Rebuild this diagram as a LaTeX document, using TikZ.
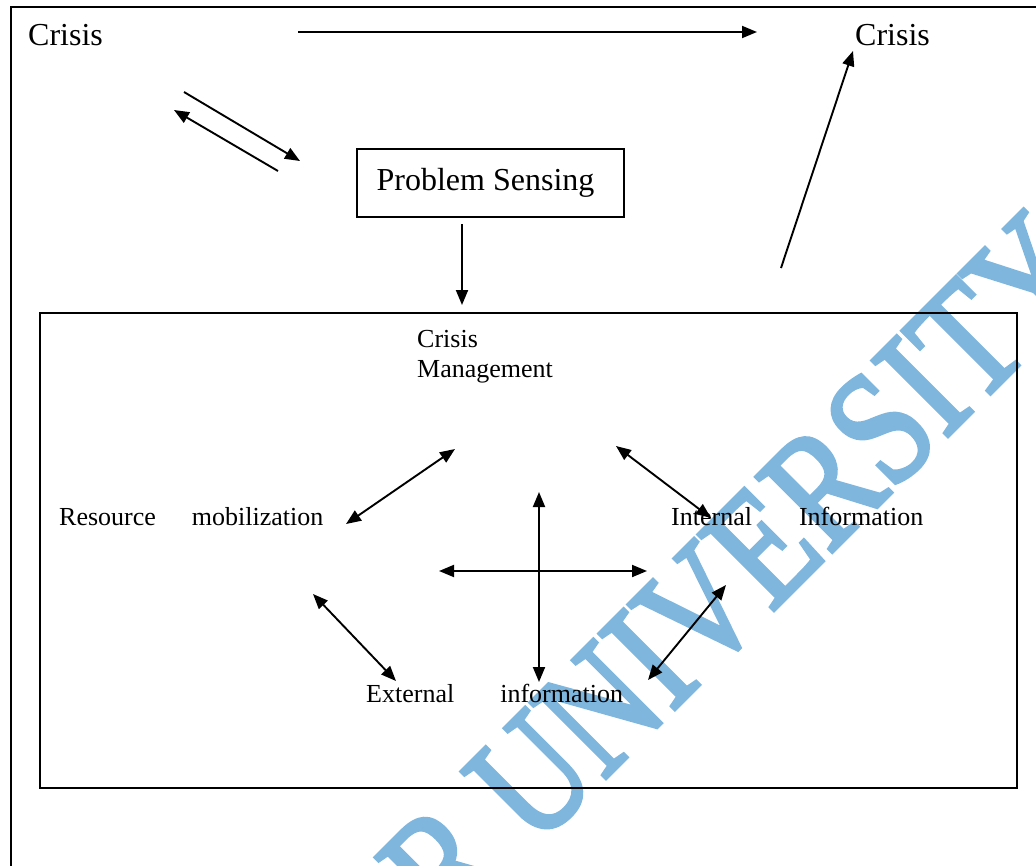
\documentclass[tikz,border=0pt]{standalone}
\usepackage{fontspec}
\setmainfont{Liberation Serif}
\newfontfamily\wmfont[FakeBold=2.5]{Liberation Serif}
\usetikzlibrary{arrows.meta}
\definecolor{wmblue}{RGB}{127,182,222}
\tikzset{
  lbl/.style={inner sep=0pt, anchor=base west, font=\fontsize{26}{29.5}\selectfont},
  bigl/.style={inner sep=0pt, anchor=base west, font=\fontsize{32}{36}\selectfont},
  arr/.style={-{Triangle[length=15pt,width=12pt]}, line width=1.9pt},
  darr/.style={{Triangle[length=15pt,width=12pt]}-{Triangle[length=15pt,width=12pt]}, line width=1.9pt}
}
\begin{document}
\begin{tikzpicture}[x=1pt,y=-1pt]
    \useasboundingbox (0,0) rectangle (1036,865);

    % watermark
    \begin{scope}
      \clip (0,0) rectangle (1036,865);
      \node[inner sep=0pt, anchor=base west, rotate=45, xscale=0.82, text=wmblue,
            font=\wmfont\fontsize{163}{163}\selectfont] (wm) at (448,936) {R UNIVERSITY};
    \end{scope}

    % frames
    \draw[line width=1.8pt] (11,870) -- (11,7) -- (1040,7);
    \node[draw, line width=1.8pt, minimum width=977pt, minimum height=475pt] (cmbox) at (528.5,550.5) {};
    \node[draw, line width=1.4pt, minimum width=267pt, minimum height=68pt,
          font=\fontsize{32}{36}\selectfont] (sensing) at (490.5,183) {Problem Sensing\hspace*{10pt}};

    \node[bigl] (crisisA) at (28,45) {Crisis};
    \node[bigl] (crisisB) at (855,45) {Crisis};

    \node[lbl, align=left] (cm) at (417,377) {Crisis\\Management};
    \node[lbl] (resource) at (59,525) {Resource\hspace{36pt}mobilization};
    \node[lbl] (internal) at (671,525) {Internal\hspace{47pt}Information};
    \node[lbl] (external) at (366,702) {External\hspace{46pt}information};

    % loose arrow ends
    \coordinate (t1) at (298,32);
    \coordinate (t2) at (757,32);
    \coordinate (d1) at (184,92);
    \coordinate (d2) at (300,161);
    \coordinate (u1) at (278,171);
    \coordinate (u2) at (174,110);
    \coordinate (r1) at (781,268);
    \coordinate (r2) at (853,51);
    \coordinate (s1) at (462,224);
    \coordinate (s2) at (462,305);

    \coordinate (a1) at (346,524);
    \coordinate (a2) at (455,449);
    \coordinate (b1) at (616,446);
    \coordinate (b2) at (711,518);
    \coordinate (v1) at (539,492);
    \coordinate (v2) at (539,682);
    \coordinate (h1) at (439,571);
    \coordinate (h2) at (647,571);
    \coordinate (e1) at (313,594);
    \coordinate (e2) at (396,681);
    \coordinate (f1) at (648,680);
    \coordinate (f2) at (726,585);

    \draw[arr] (t1) -- (t2);
    \draw[arr] (d1) -- (d2);
    \draw[arr] (u1) -- (u2);
    \draw[arr] (r1) -- (r2);
    \draw[arr] (s1) -- (s2);

    \draw[darr] (a1) -- (a2);
    \draw[darr] (b1) -- (b2);
    \draw[darr] (v1) -- (v2);
    \draw[darr] (h1) -- (h2);
    \draw[darr] (e1) -- (e2);
    \draw[darr] (f1) -- (f2);
\end{tikzpicture}
\end{document}
